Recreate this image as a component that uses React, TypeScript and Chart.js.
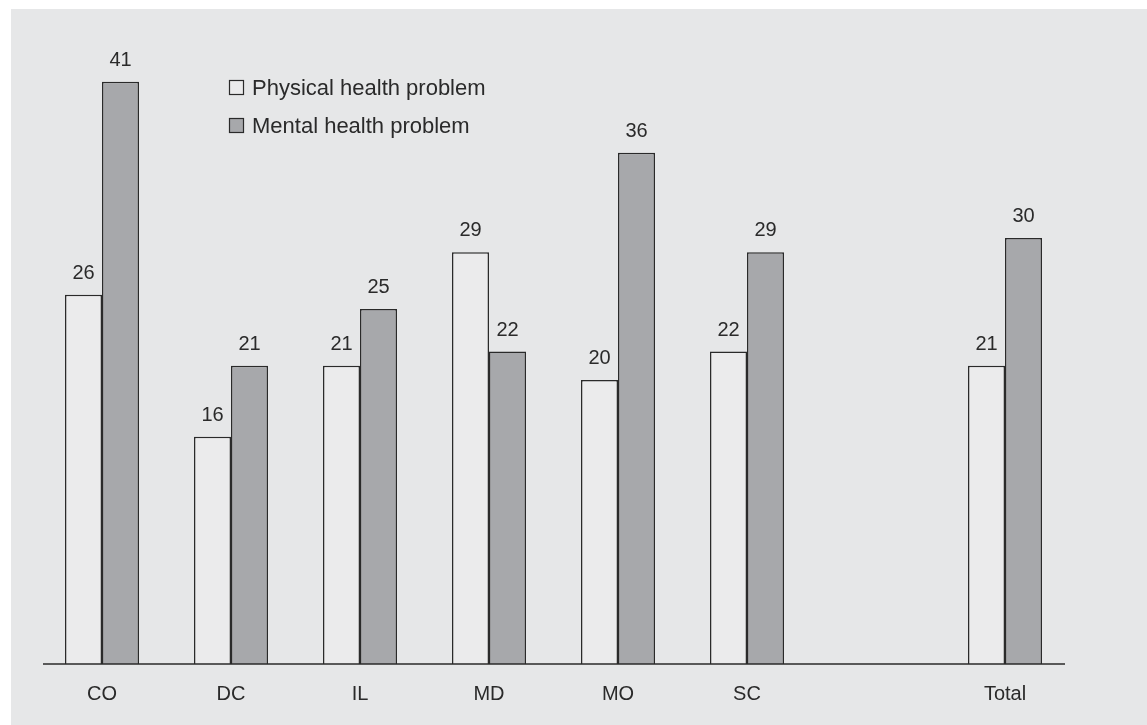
import React, { useEffect, useRef } from 'react';
import { Chart, registerables } from 'chart.js';

Chart.register(...registerables);

const categories = ['CO', 'DC', 'IL', 'MD', 'MO', 'SC', '', 'Total'];
const physical: (number | null)[] = [26, 16, 21, 29, 20, 22, null, 21];
const mental: (number | null)[] = [41, 21, 25, 22, 36, 29, null, 30];
const seriesNames = ['Physical health problem', 'Mental health problem'];

const FONT = '"Liberation Sans", Arial, Helvetica, sans-serif';
const INK = '#2a2a2a';
const PANEL = '#e6e7e8';
const LIGHT_FILL = '#ebebec';
const DARK_FILL = '#a7a8ab';

const decorPlugin = {
  id: 'decor',
  afterDatasetsDraw(chart: any) {
    const ctx = chart.ctx;
    const area = chart.chartArea;
    ctx.save();
    // baseline axis
    ctx.strokeStyle = INK;
    ctx.lineWidth = 1.5;
    ctx.beginPath();
    ctx.moveTo(43, area.bottom);
    ctx.lineTo(1065, area.bottom);
    ctx.stroke();

    // value labels
    ctx.fillStyle = INK;
    ctx.font = `20px ${FONT}`;
    ctx.textAlign = 'center';
    ctx.textBaseline = 'alphabetic';
    chart.data.datasets.forEach((ds: any, di: number) => {
      const meta = chart.getDatasetMeta(di);
      meta.data.forEach((el: any, i: number) => {
        const v = ds.data[i];
        if (v === null || v === undefined) return;
        ctx.fillText(String(v), el.x, el.y - 16);
      });
    });

    // legend
    const lx = 229.5;
    const rows = [80.5, 118.5];
    ctx.font = `22px ${FONT}`;
    chart.data.datasets.forEach((ds: any, di: number) => {
      const y = rows[di];
      ctx.fillStyle = ds.backgroundColor;
      ctx.fillRect(lx, y, 14, 14);
      ctx.strokeStyle = INK;
      ctx.lineWidth = 1.2;
      ctx.strokeRect(lx, y, 14, 14);
      ctx.fillStyle = INK;
      ctx.textAlign = 'left';
      ctx.fillText(ds.label, 252, y + 14);
    });
    ctx.restore();
  },
};

export default function App() {
  const ref = useRef<HTMLCanvasElement | null>(null);

  useEffect(() => {
    if (!ref.current) return;
    const chart = new Chart(ref.current, {
      type: 'bar',
      data: {
        labels: categories,
        datasets: [
          {
            label: seriesNames[0],
            data: physical,
            backgroundColor: LIGHT_FILL,
            borderColor: INK,
            borderWidth: 1.5,
          },
          {
            label: seriesNames[1],
            data: mental,
            backgroundColor: DARK_FILL,
            borderColor: INK,
            borderWidth: 1.5,
          },
        ],
      },
      options: {
        responsive: false,
        animation: false,
        datasets: {
          bar: { categoryPercentage: 0.5736, barPercentage: 1 },
        },
        layout: { padding: { left: 37.5, right: 77.5, top: 25, bottom: 1 } },
        plugins: {
          legend: { display: false },
          tooltip: { enabled: false },
        },
        scales: {
          x: {
            grid: { display: false, drawTicks: false },
            border: { display: false },
            ticks: {
              color: INK,
              font: { family: FONT, size: 20 },
              padding: 18,
              maxRotation: 0,
              autoSkip: false,
            },
          },
          y: {
            display: false,
            min: 0,
            max: 45,
          },
        },
      },
      plugins: [decorPlugin],
    });
    return () => chart.destroy();
  }, []);

  return (
    <div
      style={{
        position: 'fixed',
        left: 0,
        top: 0,
        width: 1147,
        height: 725,
        background: '#ffffff',
        overflow: 'hidden',
      }}
    >
      <div
        style={{
          position: 'absolute',
          left: 11,
          top: 9,
          right: 0,
          bottom: 0,
          background: PANEL,
        }}
      />
      <canvas
        ref={ref}
        width={1147}
        height={725}
        style={{ position: 'absolute', left: 0, top: 0, width: 1147, height: 725 }}
      />
    </div>
  );
}
